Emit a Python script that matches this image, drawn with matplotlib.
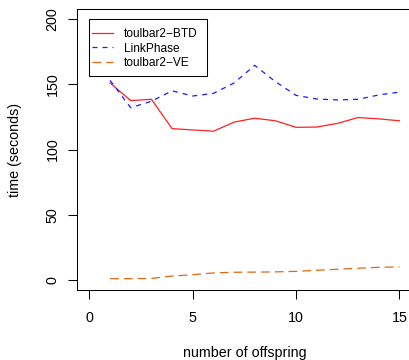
import matplotlib
matplotlib.use("Agg")
import matplotlib.pyplot as plt
from matplotlib.patches import Rectangle

plt.rcParams['font.family'] = ['Liberation Sans', 'DejaVu Sans']

offspring = list(range(1, 16))
btd = [151, 137.5, 138.5, 116, 115, 114, 121, 124, 122, 117, 117.2, 120, 124.5, 123.5, 122]
linkphase = [153, 132, 137, 145, 141, 143, 151, 164.5, 152, 141.5, 138.7, 138, 138.5, 141.8, 144]
ve = [1.0, 1.0, 1.2, 3.0, 4.0, 5.4, 5.9, 6.0, 6.2, 6.6, 7.4, 8.2, 9.0, 9.7, 10.0]

xticks = [0, 5, 10, 15]
yticks = [0, 50, 100, 150, 200]

W, H = 409, 360
fig = plt.figure(figsize=(W / 100, H / 100), dpi=100)
# R-style plot region, 4% padding on both axes; right edge runs off the image
ax = fig.add_axes([77 / W, 1 - 290.4 / H, (411.8 - 77) / W, (290.4 - 8.6) / H])

ax.plot(offspring, btd, color='#ff2020', lw=0.9, label='toulbar2\u2212BTD')
ax.plot(offspring, linkphase, color='#1a1aff', lw=0.9, dashes=(4, 4), label='LinkPhase')
ax.plot(offspring, ve, color='#e06818', lw=0.9, dashes=(7, 4), label='toulbar2\u2212VE')

ax.set_xlim(-0.6, 15.6)
ax.set_ylim(-8, 208)
ax.set_xticks(xticks)
ax.set_yticks(yticks)
ax.set_yticklabels([str(v) for v in yticks], rotation=90, va='center')
ax.tick_params(direction='out', length=6.5, width=0.75, labelsize=10.3, colors='black')
ax.tick_params(axis='x', pad=8)
ax.tick_params(axis='y', pad=6)
for s in ax.spines.values():
    s.set_linewidth(0.75)

# legend entries without frame, R-style box drawn separately (more vertical padding)
leg = fig.legend(loc='upper left', bbox_to_anchor=(92 / W, 1 - 28 / H),
                 fontsize=8.6, frameon=False, handlelength=1.75, handletextpad=0.95,
                 borderpad=0, labelspacing=0.22, borderaxespad=0)
fig.patches.append(Rectangle((89 / W, 1 - 76 / H), (207 - 89) / W, (76 - 19) / H,
                             transform=fig.transFigure, fill=True, facecolor='white',
                             edgecolor='black', lw=0.75, zorder=2.5))
leg.set_zorder(3)

fig.text(245 / W, 1 - 353 / H, 'number of offspring', ha='center', va='center', fontsize=10.3)
fig.text(15 / W, 1 - 150 / H, 'time (seconds)', ha='center', va='center', rotation=90, fontsize=10.3)

fig.savefig('out.png', dpi=100)
